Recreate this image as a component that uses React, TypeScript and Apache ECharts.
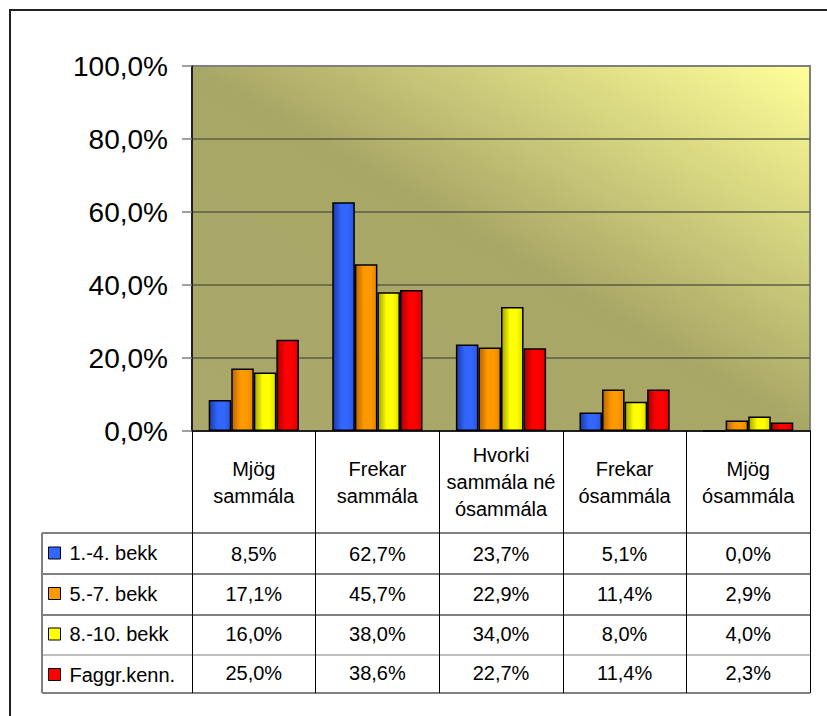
import React, { useEffect, useRef } from "react";
import * as echarts from "echarts";

const categories = [
  "Mjög\nsammála",
  "Frekar\nsammála",
  "Hvorki\nsammála né\nósammála",
  "Frekar\nósammála",
  "Mjög\nósammála",
];
const seriesNames = ["1.-4. bekk", "5.-7. bekk", "8.-10. bekk", "Faggr.kenn."];
const s1 = [8.5, 62.7, 23.7, 5.1, 0.0];
const s2 = [17.1, 45.7, 22.9, 11.4, 2.9];
const s3 = [16.0, 38.0, 34.0, 8.0, 4.0];
const s4 = [25.0, 38.6, 22.7, 11.4, 2.3];
const seriesValues = [s1, s2, s3, s4];

const baseColors = ["#3366FF", "#FF9900", "#FFFF00", "#FF0000"];
const darkColors = ["#1a3ca8", "#b86400", "#a3a300", "#a80000"];
const midDark = ["#2b55dd", "#e08700", "#dede00", "#dd0000"];

const FONT = "'Liberation Sans', Arial, sans-serif";
const fmt = (v: number) => v.toFixed(1).replace(".", ",") + "%";

const rowCenters = [553.5, 594, 634, 672.5];

export default function App() {
  const ref = useRef<HTMLDivElement>(null);
  useEffect(() => {
    if (!ref.current) return;
    const chart = echarts.init(ref.current, undefined, { renderer: "svg" });

    const grids: any[] = [
      {
        left: 192,
        right: 17,
        top: 66,
        height: 365,
        show: true,
        borderColor: "#808080",
        borderWidth: 2,
        backgroundColor: {
          type: "linear",
          x: 1,
          y: 0,
          x2: 0,
          y2: 1,
          colorStops: [
            { offset: 0, color: "#FFFF99" },
            { offset: 0.5, color: "#A9A766" },
            { offset: 1, color: "#AAA86A" },
          ],
        },
      },
    ];
    const xAxes: any[] = [
      {
        type: "category",
        gridIndex: 0,
        data: categories,
        axisLine: { show: true, lineStyle: { color: "#000", width: 1.5 } },
        axisTick: {
          show: true,
          length: 262,
          interval: 0,
          lineStyle: { color: "#000", width: 1 },
        },
        axisLabel: {
          interval: 0,
          margin: 51,
          verticalAlign: "middle",
          fontSize: 20,
          lineHeight: 27,
          color: "#000",
          fontFamily: FONT,
        },
      },
    ];
    const yAxes: any[] = [
      {
        type: "value",
        gridIndex: 0,
        min: 0,
        max: 100,
        interval: 20,
        axisLine: { show: true, lineStyle: { color: "#000", width: 1.5 } },
        axisTick: { show: true, length: 10, lineStyle: { color: "#808080", width: 1.5 } },
        axisLabel: {
          formatter: (v: number) => fmt(v),
          fontSize: 28,
          color: "#000",
          margin: 24,
          fontFamily: FONT,
        },
        splitLine: {
          show: true,
          showMinLine: false,
          showMaxLine: false,
          lineStyle: { color: "#5c5c44", width: 1.5 },
        },
      },
    ];

    seriesValues.forEach((vals, i) => {
      grids.push({ left: 192, right: 17, top: rowCenters[i], height: 1, show: false });
      xAxes.push({
        type: "category",
        gridIndex: i + 1,
        position: "top",
        data: vals.map(fmt),
        axisLine: { show: false },
        axisTick: { show: false },
        axisLabel: {
          interval: 0,
          margin: 0,
          verticalAlign: "middle",
          fontSize: 20,
          color: "#000",
          fontFamily: FONT,
        },
      });
      yAxes.push({ type: "value", gridIndex: i + 1, show: false });
    });

    const hLines = [
      { y: 533, w: 2, x1: 42 },
      { y: 574, w: 2, x1: 42 },
      { y: 615, w: 2, x1: 42 },
      { y: 655, w: 1, x1: 42 },
      { y: 693, w: 2, x1: 42 },
    ];

    chart.setOption({
      animation: false,
      textStyle: { fontFamily: FONT },
      grid: grids,
      xAxis: xAxes,
      yAxis: yAxes,
      legend: {
        orient: "vertical",
        left: 48,
        top: 543,
        padding: 0,
        itemWidth: 12,
        itemHeight: 12,
        itemGap: 20.5,
        icon: "rect",
        textStyle: { fontSize: 20, lineHeight: 20, color: "#000", fontFamily: FONT, padding: [0, 0, 0, 4] },
        data: seriesNames.map((n, i) => ({
          name: n,
          itemStyle: { color: baseColors[i], borderColor: "#000", borderWidth: 1 },
        })),
      },
      graphic: [
        {
          type: "rect",
          shape: { x: 10, y: 10, width: 1000, height: 1000 },
          style: { fill: "none", stroke: "#222", lineWidth: 2 },
          silent: true,
        },
        ...hLines.map((l) => ({
          type: "line",
          shape: { x1: l.x1, y1: l.y, x2: 810, y2: l.y },
          style: { stroke: "#808080", lineWidth: l.w },
          silent: true,
        })),
        {
          type: "line",
          shape: { x1: 42, y1: 533, x2: 42, y2: 693 },
          style: { stroke: "#808080", lineWidth: 2 },
          silent: true,
        },
      ],
      series: seriesValues.map((vals, i) => ({
        type: "bar",
        name: seriesNames[i],
        xAxisIndex: 0,
        yAxisIndex: 0,
        data: vals,
        barGap: "0%",
        barCategoryGap: "27%",
        itemStyle: {
          color: {
            type: "linear",
            x: 0,
            y: 0,
            x2: 1,
            y2: 0,
            colorStops: [
              { offset: 0, color: darkColors[i] },
              { offset: 0.4, color: baseColors[i] },
              { offset: 0.7, color: baseColors[i] },
              { offset: 1, color: midDark[i] },
            ],
          },
          borderColor: "#000",
          borderWidth: 1.5,
        },
      })),
    });
    return () => chart.dispose();
  }, []);
  return (
    <div
      ref={ref}
      style={{ position: "absolute", left: 0, top: 0, width: 827, height: 716 }}
    />
  );
}
